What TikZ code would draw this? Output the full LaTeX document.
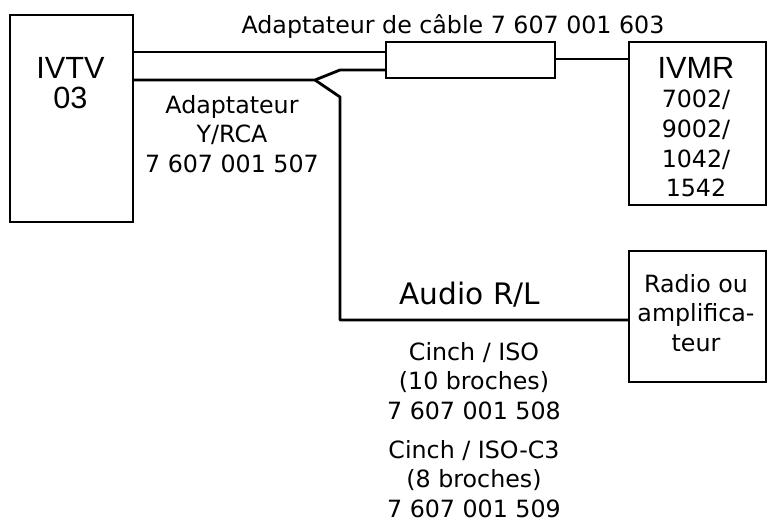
\documentclass[tikz,border=0pt]{standalone}
\usepackage{fontspec}
\setmainfont{DejaVu Sans}
\newfontfamily\namefont{Liberation Sans}
\usetikzlibrary{calc}

\begin{document}
\begin{tikzpicture}[x=0.75pt,y=-0.75pt,
        every node/.style={inner sep=0pt,outer sep=0pt},
        boxnode/.style={draw,line width=2.1pt,minimum width=#1*0.75pt,anchor=north west},
        wire/.style={line width=2.1pt,line join=round},
        small/.style={font=\fontsize{17.8}{22.3}\selectfont,align=center,anchor=north},
        big/.style={font=\fontsize{22.2}{22}\selectfont,align=center,anchor=north},
        unitname/.style={font=\namefont\fontsize{23}{23}\selectfont,align=center,anchor=north}]
    \useasboundingbox (0,0) rectangle (771,523);

    \node [boxnode=123,minimum height=155.25pt] (ivtv) at (10,15) {};
    \node [boxnode=169,minimum height=27pt] (cable) at (386,42) {};
    \node [boxnode=137,minimum height=122.25pt] (ivmr) at (629,42) {};
    \node [boxnode=137,minimum height=98.25pt] (radio) at (629,251) {};

    \coordinate (fork) at (315,80);
    \coordinate (forkup) at (340,70);
    \coordinate (forkdown) at (340,97);
    \coordinate (corner) at (340,320);

    \draw [wire] (ivtv.north east |- 0,52) -- (cable.west |- 0,52);
    \draw [wire] (ivtv.north east |- fork) -- (fork) -- (forkup) -- (cable.west |- forkup);
    \draw [wire] (fork) -- (forkdown) -- (corner) -- (radio.west |- corner);
    \draw [wire] (cable.east |- 0,59) -- (ivmr.west |- 0,59);

    \node [unitname] (ivtvname) at (70.5,57) {IVTV\\03};
    \node [unitname] (ivmrname) at (696,57) {IVMR};
    \node [small] (ivmrtypes) at (696,90) {7002/\\9002/\\1042/\\1542};
    \node [small] (radioname) at (696,274) {Radio ou\\amplifica-\\teur};
    \node [small] (title) at (453,15) {Adaptateur de câble 7 607 001 603};
    \node [small] (adapter) at (232,95) {Adaptateur\\Y/RCA\\7 607 001 507};
    \node [big] (audio) at (470,282) {Audio R/L};
    \node [small] (iso) at (474,342) {Cinch / ISO\\(10 broches)\\7 607 001 508};
    \node [small] (isoc) at (474,440) {Cinch / ISO-C3\\(8 broches)\\7 607 001 509};
\end{tikzpicture}
\end{document}
